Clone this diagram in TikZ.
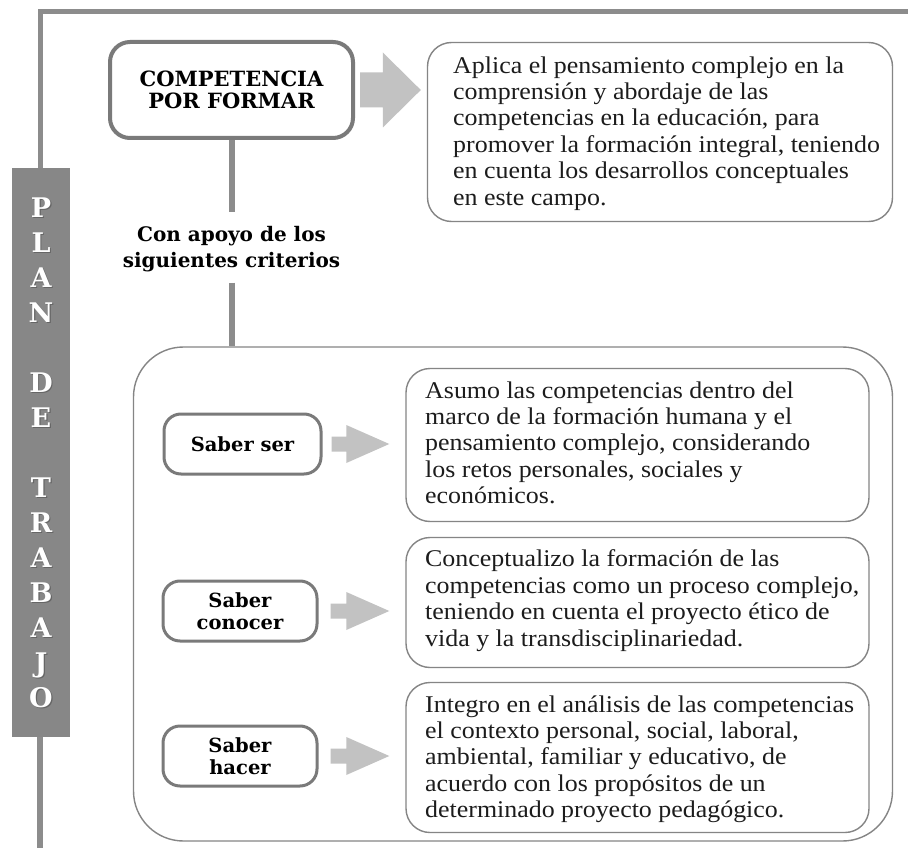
\documentclass[tikz,border=0pt]{standalone}
\usepackage{fontspec}
\setmainfont{Liberation Serif}[FakeStretch=1.08]
\newfontfamily\slab{DejaVu Serif}
\usetikzlibrary{calc}
\definecolor{framec}{HTML}{8C8C8C}
\definecolor{sidec}{HTML}{878787}
\definecolor{bordc}{HTML}{7A7A7A}
\definecolor{arrc}{HTML}{C2C2C2}
\definecolor{thinc}{HTML}{858585}
\definecolor{inkc}{HTML}{1C1C1C}
\tikzset{
 compbox/.style={draw=bordc, line width=4pt, rounded corners=20pt, fill=white, minimum width=243pt, minimum height=96pt, inner sep=0pt, align=center, font=\slab\bfseries\fontsize{21}{22.5}\selectfont},
 tbox/.style={draw=thinc, line width=1.4pt, rounded corners=24pt, fill=white, inner sep=0pt},
 bigbox/.style={draw=thinc, line width=1.4pt, rounded corners=50pt, inner sep=0pt},
 saberbox/.style={draw=bordc, line width=3pt, rounded corners=17pt, fill=white, inner sep=0pt, align=center, font=\slab\bfseries\fontsize{19.5}{22}\selectfont},
 body/.style={anchor=base west, inner sep=0pt, align=left, text=inkc, font=\fontsize{24}{26.4}\selectfont},
 crit/.style={align=center, inner sep=0pt, anchor=base, font=\slab\bfseries\fontsize{20}{26}\selectfont},
 conn/.style={draw=framec, line width=6pt},
 sidel/.style={text=white, font=\slab\bfseries\fontsize{27}{27}\selectfont, inner sep=0pt, anchor=base},
 sides/.style={text=black!60, font=\slab\bfseries\fontsize{27}{27}\selectfont, inner sep=0pt, anchor=base},
}
\newcommand\blockarrow[5]{%
 \fill[arrc] let \p1=(#1), \p2=(#2) in (\x1,\y1+#3) -- (\x2-#5,\y1+#3) -- (\x2-#5,\y1+#4) -- (\x2,\y1) -- (\x2-#5,\y1-#4) -- (\x2-#5,\y1-#3) -- (\x1,\y1-#3) -- cycle;}
\begin{document}
\begin{tikzpicture}[x=1pt,y=-1pt]
\fill[white] (0,0) rectangle (908,848);
\useasboundingbox (0,0) rectangle (908,848);
% side bar and frame
\node[fill=sidec, minimum width=58pt, minimum height=569pt, inner sep=0pt] (side) at (41,452.5) {};
\draw[framec, line width=5pt] (908,12) -- (40,12) -- (side.north -| 40,0);
\draw[framec, line width=6pt] (side.south -| 40,0) -- (40,848);
\foreach \l/\i in {P/0,L/1,A/2,N/3,D/5,E/6,T/8,R/9,A/10,B/11,A/12,J/13,O/14}{
  \node[sides] (sh\i) at (42.2,217.5+35*\i+1.2) {\l};
  \node[sidel] (sl\i) at (41,217.5+35*\i) {\l};
}
% big container
\node[bigbox, minimum width=759pt, minimum height=494pt] (big) at (513,594) {};
% competence
\node[compbox] (comp) at (231.5,90) {COMPETENCIA\\POR FORMAR};
\node[tbox, minimum width=465pt, minimum height=179pt] (t0) at (660,132) {};
\node[body] (t0t) at (453,205) {Aplica el pensamiento complejo en la\\comprensión y abordaje de las\\competencias en la educación, para\\promover la formación integral, teniendo\\en cuenta los desarrollos conceptuales\\en este campo.};
\coordinate (a0s) at ($(comp.east)+(5,0)$);
\coordinate (a0e) at ($(comp.east -| t0.west)+(-6,0)$);
\blockarrow{a0s}{a0e}{17.5pt}{37.5pt}{38pt}
% criteria label
\node[crit] (crit) at (231.5,267) {Con apoyo de los\\siguientes criterios};
\draw[conn, shorten >=14pt] (comp.south) -- (crit.north);
\draw[conn, shorten <=11pt] (crit.south) -- (crit.south |- big.north);
% saber boxes
\node[saberbox, minimum width=157pt, minimum height=60pt] (ser) at (242.5,444) {Saber ser};
\node[saberbox, minimum width=154pt, minimum height=60pt] (con) at (240,611) {Saber\\conocer};
\node[saberbox, minimum width=154pt, minimum height=60pt] (hac) at (240,756) {Saber\\hacer};
% text boxes
\node[tbox, minimum width=463pt, minimum height=153pt] (b1) at (637.5,445) {};
\node[tbox, minimum width=463pt, minimum height=130pt] (b2) at (637.5,602.5) {};
\node[tbox, minimum width=463pt, minimum height=150pt] (b3) at (637.5,757.5) {};
\node[body] (b1t) at (425,503.6) {Asumo las competencias dentro del\\marco de la formación humana y el\\pensamiento complejo, considerando\\los retos personales, sociales y\\económicos.};
\node[body] (b2t) at (425,646) {Conceptualizo la formación de las\\competencias como un proceso complejo,\\teniendo en cuenta el proyecto ético de\\vida y la transdisciplinariedad.};
\node[body] (b3t) at (425,817.6) {Integro en el análisis de las competencias\\el contexto personal, social, laboral,\\ambiental, familiar y educativo, de\\acuerdo con los propósitos de un\\determinado proyecto pedagógico.};
% small arrows
\coordinate (a1s) at ($(ser.east)+(9,0)$);
\coordinate (a1e) at ($(ser.east -| b1.west)+(-16,0)$);
\blockarrow{a1s}{a1e}{7.5pt}{19pt}{43pt}
\coordinate (a2s) at ($(con.east)+(12,0)$);
\coordinate (a2e) at ($(con.east -| b2.west)+(-16,0)$);
\blockarrow{a2s}{a2e}{7.5pt}{19pt}{43pt}
\coordinate (a3s) at ($(hac.east)+(12,0)$);
\coordinate (a3e) at ($(hac.east -| b3.west)+(-16,0)$);
\blockarrow{a3s}{a3e}{7.5pt}{19pt}{43pt}
\end{tikzpicture}
\end{document}
